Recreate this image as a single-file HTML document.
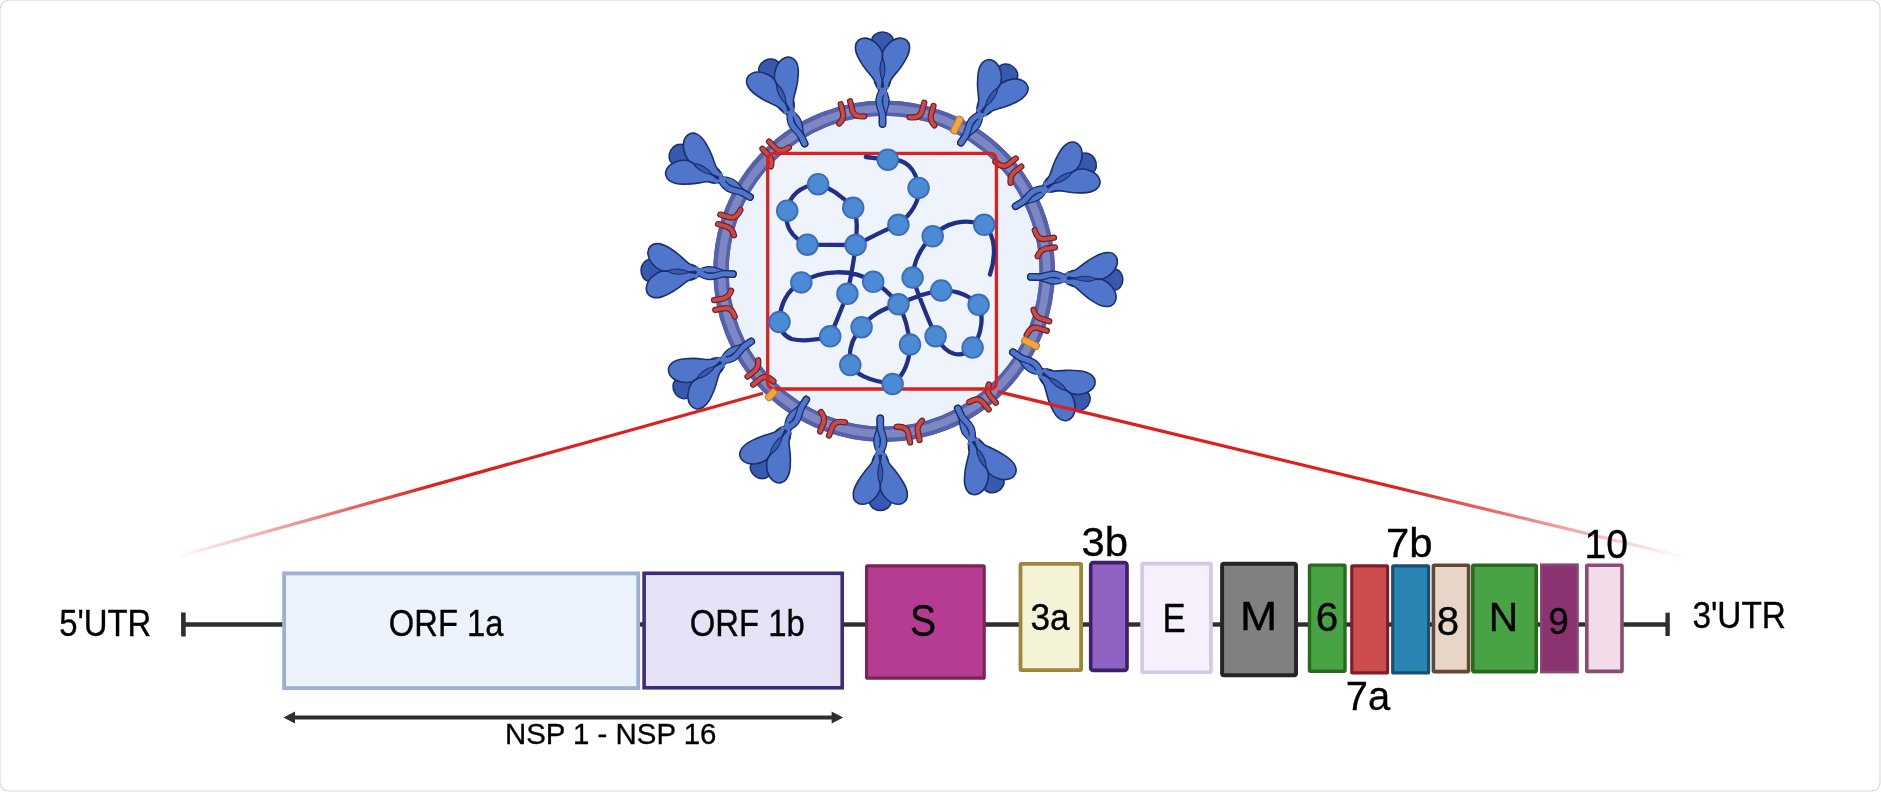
<!DOCTYPE html>
<html><head><meta charset="utf-8"><title>SARS-CoV-2 genome</title>
<style>
html,body{margin:0;padding:0;background:#fff;}
body{width:1881px;height:792px;overflow:hidden;position:relative;font-family:"Liberation Sans",sans-serif;}
svg{position:absolute;left:0;top:0;will-change:transform;}
text{font-family:"Liberation Sans",sans-serif;fill:#000;stroke:#000;stroke-width:0.35px;}
</style></head><body>
<svg width="1881" height="792" viewBox="0 0 1881 792">
<defs>
<linearGradient id="gl" gradientUnits="userSpaceOnUse" x1="763" y1="393.2" x2="174" y2="557.5">
<stop offset="0" stop-color="#dc201d"/><stop offset="0.56" stop-color="#dc201d"/><stop offset="1" stop-color="#dc201d" stop-opacity="0"/>
</linearGradient>
<linearGradient id="gr" gradientUnits="userSpaceOnUse" x1="997.7" y1="391.6" x2="1684" y2="557">
<stop offset="0" stop-color="#dc201d"/><stop offset="0.58" stop-color="#dc201d"/><stop offset="1" stop-color="#dc201d" stop-opacity="0"/>
</linearGradient>

<g id="spike" stroke-linejoin="round" stroke-linecap="round">
<path d="M-10.8,-84.5 A10.8,8.8 0 0 1 10.8,-84.5 C10.8,-78 4,-72 0,-67 C-4,-72 -10.8,-78 -10.8,-84.5 Z" fill="#3859ae" stroke="#1a2f6e" stroke-width="1.5"/>
<path d="M-4.6,-43 C-2.4,-38 3.4,-32 3.4,-24.5 C3.4,-18 0.2,-15 0,-9 L0,-1.2" fill="none" stroke="#1a2f6e" stroke-width="7.6"/>
<path d="M-4.6,-43 C-2.4,-38 3.4,-32 3.4,-24.5 C3.4,-18 0.2,-15 0,-9 L0,-1.2" fill="none" stroke="#4f76cb" stroke-width="5"/>
<path d="M4.6,-43 C2.4,-38 -3.4,-32 -3.4,-24.5 C-3.4,-18 -0.2,-15 0,-9 L0,-1.2" fill="none" stroke="#1a2f6e" stroke-width="7.6"/>
<path d="M4.6,-43 C2.4,-38 -3.4,-32 -3.4,-24.5 C-3.4,-18 -0.2,-15 0,-9 L0,-1.2" fill="none" stroke="#4f76cb" stroke-width="5"/>
<path d="M-3.2,-40 C-1.6,-38 0.8,-35.5 2.2,-33" fill="none" stroke="#4f76cb" stroke-width="5"/>
<path d="M0,-72.5 C-1.6,-76.5 -4,-80 -6.8,-82.4 C-10,-85.2 -14,-87.2 -18,-87.2 C-23,-87.2 -26.6,-83.8 -27,-79 C-27.4,-75 -26,-70.5 -23,-65.4 C-20.5,-61 -19,-58.5 -15.9,-54.8 C-13,-51.3 -10.5,-48.5 -8.8,-46 C-7,-43 -6.2,-40.5 -5.6,-37.6 L-1.2,-37 L0,-45 Z" fill="#4f76cb" stroke="#1a2f6e" stroke-width="1.6"/>
<path d="M0,-72.5 C1.6,-76.5 4,-80 6.8,-82.4 C10,-85.2 14,-87.2 18,-87.2 C23,-87.2 26.6,-83.8 27,-79 C27.4,-75 26,-70.5 23,-65.4 C20.5,-61 19,-58.5 15.9,-54.8 C13,-51.3 10.5,-48.5 8.8,-46 C7,-43 6.2,-40.5 5.6,-37.6 L1.2,-37 L-0,-45 Z" fill="#4f76cb" stroke="#1a2f6e" stroke-width="1.6"/>
<path d="M-5,-37.8 L-1.4,-36.6 M5,-37.8 L1.4,-36.6" stroke="#4f76cb" stroke-width="2.4" fill="none"/>
<path d="M0,-67 C-3.3,-61.5 -3.5,-51.5 0,-45 C3.5,-51.5 3.3,-61.5 0,-67 Z" fill="#3859ae" stroke="#1a2f6e" stroke-width="1.1"/>
<path d="M0,-72.5 L0,-67 M0,-45 L0,-38" stroke="#1a2f6e" stroke-width="1.2" fill="none"/>
</g>
<g id="mp" fill="none" stroke-linecap="round" stroke-linejoin="round">
<path d="M-5.4,-10.2 L-5.2,0 Q-5.4,6 -11.8,10 M5.2,-11 L5.4,0 Q6,7 16.5,8.4" stroke="#741f24" stroke-width="6.8"/>
<path d="M-5.4,-10.2 L-5.2,0 Q-5.4,6 -11.8,10 M5.2,-11 L5.4,0 Q6,7 16.5,8.4" stroke="#c74b47" stroke-width="4.2"/>
</g>
<rect id="ep" x="-3.4" y="-9.4" width="6.8" height="18.6" rx="2.6" fill="#f2a640" stroke="#bf7a28" stroke-width="1.1"/>
</defs>
<circle cx="884.1" cy="271.2" r="163.10000000000002" fill="#ecf2fb" stroke="#5660ad" stroke-width="15.400000000000006"/>
<rect x="767.7" y="153.3" width="228.7" height="235.7" rx="6" fill="#eff4fc"/>
<circle cx="884.1" cy="271.2" r="163.10000000000002" fill="none" stroke="#5660ad" stroke-width="15.400000000000006"/>
<circle cx="884.1" cy="271.2" r="162.70000000000002" fill="none" stroke="#7d88c3" stroke-width="7.6"/>
<use href="#mp" transform="translate(847.7,112.2) rotate(-12.9) scale(0.92)"/>
<use href="#mp" transform="translate(926.3,113.7) rotate(15.0) scale(-0.92,0.92)"/>
<use href="#mp" transform="translate(772.5,152.3) rotate(-43.2) scale(0.92)"/>
<use href="#mp" transform="translate(1010.9,168.6) rotate(51.0) scale(-0.92,0.92)"/>
<use href="#mp" transform="translate(728.5,222.2) rotate(287.5) scale(0.92)"/>
<use href="#mp" transform="translate(1044.9,244.0) rotate(80.4) scale(-0.92,0.92)"/>
<use href="#mp" transform="translate(724.2,303.2) rotate(258.7) scale(-0.92,0.92)"/>
<use href="#mp" transform="translate(1038.8,323.0) rotate(108.5) scale(0.92)"/>
<use href="#mp" transform="translate(757.9,374.5) rotate(230.7) scale(-0.92,0.92)"/>
<use href="#mp" transform="translate(986.1,398.5) rotate(141.3) scale(0.92)"/>
<use href="#mp" transform="translate(828.0,424.4) rotate(200.1) scale(-0.92,0.92)"/>
<use href="#mp" transform="translate(913.0,431.7) rotate(169.8) scale(0.92)"/>
<use href="#ep" transform="translate(956.9,125.2) rotate(26.5)"/>
<use href="#ep" transform="translate(1030.4,343.2) rotate(116.2)"/>
<use href="#spike" transform="translate(882.5,125.3) rotate(0)"/>
<use href="#spike" transform="translate(960.3,143.6) rotate(34)"/>
<use href="#spike" transform="translate(1014.6,206.8) rotate(59)"/>
<use href="#spike" transform="translate(1029.6,276.8) rotate(92)"/>
<use href="#spike" transform="translate(1011.9,351.5) rotate(125.5)"/>
<use href="#spike" transform="translate(957.2,407.3) rotate(154.5)"/>
<use href="#spike" transform="translate(880.3,417.1) rotate(180)"/>
<use href="#spike" transform="translate(806.9,398.6) rotate(213.3)"/>
<use href="#spike" transform="translate(752.2,340.8) rotate(235.6)"/>
<use href="#spike" transform="translate(734.2,274.2) rotate(272.6)"/>
<use href="#spike" transform="translate(751.1,197.7) rotate(300.7)"/>
<use href="#spike" transform="translate(805.1,144.7) rotate(334.9)"/>
<rect x="767.7" y="153.3" width="228.7" height="235.7" rx="6" fill="none" stroke="#dc201d" stroke-width="3.3"/>
<path d="M865.8,157 L887.8,159.7 C905,158 916,168 918.6,187.9 C920,203 910,215 898.4,224.8 C884,230 870,238 855.6,245 C857,230 858,218 853.2,207.8 C842,196 832,188 818.1,184.2 C800,186 789,196 787.2,210.7 C784,226 792,238 807.4,244.7 L855.6,245 C854,262 851,276 847.4,293.8 C842,308 836,322 830.2,336.3 C815,341 800,341 791.6,339 C784,336 780,330 779.5,322 C780,304 788,290 801.3,282.4 C820,270 852,268 873.2,281.8 C882,286 890,294 898.5,304.3 C884,308 870,316 861.6,327.2 C852,338 848,350 850.3,365 C856,374 866,380 892.6,384 C904,376 910,360 910,344.6 C908,326 904,314 898.5,304.3 C912,298 926,292 941.2,290.6 C956,290 968,294 978.6,304.8 C984,316 982,334 972.6,347.6 C962,358 948,358 935.6,336.2 C926,314 918,294 912.6,277.6 C914,258 922,246 932.7,236.3 C946,222 966,218 984.2,224.8 C996,236 996,256 990,274.5" fill="none" stroke="#222f86" stroke-width="4.3" stroke-linecap="round" stroke-linejoin="round"/>
<circle cx="887.8" cy="159.7" r="10.3" fill="#4c8bd4" stroke="#3a6dc0" stroke-width="1.9"/>
<circle cx="918.6" cy="187.9" r="10.3" fill="#4c8bd4" stroke="#3a6dc0" stroke-width="1.9"/>
<circle cx="898.4" cy="224.8" r="10.3" fill="#4c8bd4" stroke="#3a6dc0" stroke-width="1.9"/>
<circle cx="818.1" cy="184.2" r="10.3" fill="#4c8bd4" stroke="#3a6dc0" stroke-width="1.9"/>
<circle cx="853.2" cy="207.8" r="10.3" fill="#4c8bd4" stroke="#3a6dc0" stroke-width="1.9"/>
<circle cx="787.2" cy="210.7" r="10.3" fill="#4c8bd4" stroke="#3a6dc0" stroke-width="1.9"/>
<circle cx="807.4" cy="244.7" r="10.3" fill="#4c8bd4" stroke="#3a6dc0" stroke-width="1.9"/>
<circle cx="855.6" cy="245" r="10.3" fill="#4c8bd4" stroke="#3a6dc0" stroke-width="1.9"/>
<circle cx="932.7" cy="236.3" r="10.3" fill="#4c8bd4" stroke="#3a6dc0" stroke-width="1.9"/>
<circle cx="984.2" cy="224.8" r="10.3" fill="#4c8bd4" stroke="#3a6dc0" stroke-width="1.9"/>
<circle cx="912.6" cy="277.6" r="10.3" fill="#4c8bd4" stroke="#3a6dc0" stroke-width="1.9"/>
<circle cx="941.2" cy="290.6" r="10.3" fill="#4c8bd4" stroke="#3a6dc0" stroke-width="1.9"/>
<circle cx="978.6" cy="304.8" r="10.3" fill="#4c8bd4" stroke="#3a6dc0" stroke-width="1.9"/>
<circle cx="972.6" cy="347.6" r="10.3" fill="#4c8bd4" stroke="#3a6dc0" stroke-width="1.9"/>
<circle cx="935.6" cy="336.2" r="10.3" fill="#4c8bd4" stroke="#3a6dc0" stroke-width="1.9"/>
<circle cx="898.5" cy="304.3" r="10.3" fill="#4c8bd4" stroke="#3a6dc0" stroke-width="1.9"/>
<circle cx="873.2" cy="281.8" r="10.3" fill="#4c8bd4" stroke="#3a6dc0" stroke-width="1.9"/>
<circle cx="847.4" cy="293.8" r="10.3" fill="#4c8bd4" stroke="#3a6dc0" stroke-width="1.9"/>
<circle cx="801.3" cy="282.4" r="10.3" fill="#4c8bd4" stroke="#3a6dc0" stroke-width="1.9"/>
<circle cx="779.5" cy="322" r="10.3" fill="#4c8bd4" stroke="#3a6dc0" stroke-width="1.9"/>
<circle cx="830.2" cy="336.3" r="10.3" fill="#4c8bd4" stroke="#3a6dc0" stroke-width="1.9"/>
<circle cx="861.6" cy="327.2" r="10.3" fill="#4c8bd4" stroke="#3a6dc0" stroke-width="1.9"/>
<circle cx="910" cy="344.6" r="10.3" fill="#4c8bd4" stroke="#3a6dc0" stroke-width="1.9"/>
<circle cx="850.3" cy="365" r="10.3" fill="#4c8bd4" stroke="#3a6dc0" stroke-width="1.9"/>
<circle cx="892.6" cy="384" r="10.3" fill="#4c8bd4" stroke="#3a6dc0" stroke-width="1.9"/>
<line x1="763" y1="393.2" x2="174" y2="557.5" stroke="url(#gl)" stroke-width="3.2"/>
<line x1="997.7" y1="391.6" x2="1684" y2="557" stroke="url(#gr)" stroke-width="3.2"/>
<rect x="-3.4" y="-6.4" width="6.8" height="12.8" rx="2.2" fill="#f2a640" stroke="#bf7a28" stroke-width="1.1" transform="translate(771.2,394.8) rotate(222.5)"/>
<line x1="183" y1="624.5" x2="284" y2="624.5" stroke="#2e2e2e" stroke-width="4.4"/>
<line x1="640" y1="624.5" x2="644" y2="624.5" stroke="#2e2e2e" stroke-width="4.4"/>
<line x1="842" y1="624.5" x2="866" y2="624.5" stroke="#2e2e2e" stroke-width="4.4"/>
<line x1="984" y1="624.5" x2="1020" y2="624.5" stroke="#2e2e2e" stroke-width="4.4"/>
<line x1="1081" y1="624.5" x2="1091" y2="624.5" stroke="#2e2e2e" stroke-width="4.4"/>
<line x1="1126" y1="624.5" x2="1142" y2="624.5" stroke="#2e2e2e" stroke-width="4.4"/>
<line x1="1211" y1="624.5" x2="1222" y2="624.5" stroke="#2e2e2e" stroke-width="4.4"/>
<line x1="1296" y1="624.5" x2="1309" y2="624.5" stroke="#2e2e2e" stroke-width="4.4"/>
<line x1="1345" y1="624.5" x2="1352" y2="624.5" stroke="#2e2e2e" stroke-width="4.4"/>
<line x1="1387" y1="624.5" x2="1393" y2="624.5" stroke="#2e2e2e" stroke-width="4.4"/>
<line x1="1429" y1="624.5" x2="1433" y2="624.5" stroke="#2e2e2e" stroke-width="4.4"/>
<line x1="1537" y1="624.5" x2="1541" y2="624.5" stroke="#2e2e2e" stroke-width="4.4"/>
<line x1="1577" y1="624.5" x2="1587" y2="624.5" stroke="#2e2e2e" stroke-width="4.4"/>
<line x1="1622" y1="624.5" x2="1668" y2="624.5" stroke="#2e2e2e" stroke-width="4.4"/>
<line x1="183.4" y1="612.5" x2="183.4" y2="636.5" stroke="#2e2e2e" stroke-width="4.6"/>
<line x1="1667.6" y1="612.7" x2="1667.6" y2="636" stroke="#2e2e2e" stroke-width="4.4"/>
<rect x="284.10" y="573.40" width="354.10" height="114.70" fill="#edf3fc" stroke="#9bafd7" stroke-width="3.8" rx="0"/>
<rect x="644.10" y="573.30" width="198.10" height="114.50" fill="#e5e1f6" stroke="#3f2a7c" stroke-width="3.6" rx="0"/>
<rect x="866.60" y="565.80" width="117.60" height="112.40" fill="#b53c92" stroke="#7d2457" stroke-width="3.2" rx="1"/>
<rect x="1020.50" y="563.90" width="60.60" height="106.20" fill="#f5f3d6" stroke="#9f853a" stroke-width="3.8" rx="1"/>
<rect x="1090.70" y="562.60" width="36.30" height="107.80" fill="#8f63c3" stroke="#3f1f66" stroke-width="3.6" rx="2.5"/>
<rect x="1142.10" y="563.60" width="68.90" height="108.60" fill="#f6f0fd" stroke="#d6c5ec" stroke-width="3.6" rx="1"/>
<rect x="1222.10" y="563.80" width="73.90" height="111.50" fill="#808080" stroke="#252525" stroke-width="4" rx="2"/>
<rect x="1309.50" y="565.10" width="35.50" height="106.20" fill="#47a344" stroke="#2a6a1f" stroke-width="3.4" rx="1"/>
<rect x="1351.80" y="565.90" width="35.80" height="107.00" fill="#cb4d4e" stroke="#7e1f28" stroke-width="3.2" rx="1"/>
<rect x="1392.70" y="565.90" width="35.90" height="107.00" fill="#2a85b4" stroke="#1b4f6f" stroke-width="3.2" rx="1"/>
<rect x="1433.40" y="565.20" width="35.20" height="106.40" fill="#e7d5c7" stroke="#634635" stroke-width="3.6" rx="1"/>
<rect x="1472.80" y="565.20" width="63.40" height="106.40" fill="#47a344" stroke="#2a6a1f" stroke-width="3.6" rx="1"/>
<rect x="1541.20" y="564.60" width="36.40" height="107.60" fill="#8a3370" stroke="#874a74" stroke-width="2.4" rx="0"/>
<rect x="1586.80" y="565.20" width="35.20" height="106.20" fill="#f3dcea" stroke="#8b4b73" stroke-width="3.6" rx="1"/>
<text x="59.2" y="635.8" font-size="36.2" text-anchor="start" textLength="92.2" lengthAdjust="spacingAndGlyphs">5'UTR</text>
<text x="388.8" y="636.3" font-size="36.2" text-anchor="start" textLength="114.6" lengthAdjust="spacingAndGlyphs">ORF 1a</text>
<text x="689.8" y="636.3" font-size="36.2" text-anchor="start" textLength="115" lengthAdjust="spacingAndGlyphs">ORF 1b</text>
<text x="909.9" y="635.7" font-size="43.6" text-anchor="start" textLength="26" lengthAdjust="spacingAndGlyphs">S</text>
<text x="1030.4" y="630.4" font-size="36.2" text-anchor="start" textLength="39.2" lengthAdjust="spacingAndGlyphs">3a</text>
<text x="1081.5" y="556.4" font-size="41" text-anchor="start" textLength="46.5" lengthAdjust="spacingAndGlyphs">3b</text>
<text x="1162.4" y="632" font-size="40.5" text-anchor="start" textLength="23.2" lengthAdjust="spacingAndGlyphs">E</text>
<text x="1240" y="629.9" font-size="41" text-anchor="start" textLength="37.2" lengthAdjust="spacingAndGlyphs">M</text>
<text x="1315.8" y="630.6" font-size="41" text-anchor="start" textLength="22.6" lengthAdjust="spacingAndGlyphs">6</text>
<text x="1345.8" y="709.7" font-size="41" text-anchor="start" textLength="44.4" lengthAdjust="spacingAndGlyphs">7a</text>
<text x="1386" y="557" font-size="41" text-anchor="start" textLength="46.5" lengthAdjust="spacingAndGlyphs">7b</text>
<text x="1436.8" y="635.4" font-size="41" text-anchor="start" textLength="22.4" lengthAdjust="spacingAndGlyphs">8</text>
<text x="1488.8" y="630.6" font-size="41" text-anchor="start" textLength="29.4" lengthAdjust="spacingAndGlyphs">N</text>
<text x="1548.4" y="634.1" font-size="37" text-anchor="start" textLength="20.2" lengthAdjust="spacingAndGlyphs">9</text>
<text x="1584.6" y="558.2" font-size="41" text-anchor="start" textLength="43.5" lengthAdjust="spacingAndGlyphs">10</text>
<text x="1692.4" y="628.1" font-size="36.2" text-anchor="start" textLength="93.6" lengthAdjust="spacingAndGlyphs">3'UTR</text>
<text x="505" y="743.5" font-size="30.3" text-anchor="start" textLength="211.4" lengthAdjust="spacingAndGlyphs">NSP 1 - NSP 16</text>
<line x1="292" y1="717.4" x2="834" y2="717.4" stroke="#2e2e2e" stroke-width="4"/>
<path d="M283.4,717.4 L295,711.4 L295,723.4 Z" fill="#2e2e2e"/>
<path d="M843.2,717.4 L831.6,711.4 L831.6,723.4 Z" fill="#2e2e2e"/>
<g fill="none" stroke-linecap="butt">
<path d="M8,0.5 L1872.5,0.5 M0.5,8 L0.5,784" stroke="#e9e9e9" stroke-width="1"/>
<path d="M1880,8 L1880,783.5 M8,791 L1872.5,791" stroke="#ebebeb" stroke-width="2"/>
<path d="M0.5,8.3 A7.8,7.8 0 0 1 8.3,0.5 M1872.2,0.5 A7.8,7.8 0 0 1 1880,8.3 M1880,783 A8,8 0 0 1 1872,791 M8.5,791 A8,8 0 0 1 0.5,783" stroke="#d6d6d6" stroke-width="1.1"/>
</g>
</svg>
</body></html>
